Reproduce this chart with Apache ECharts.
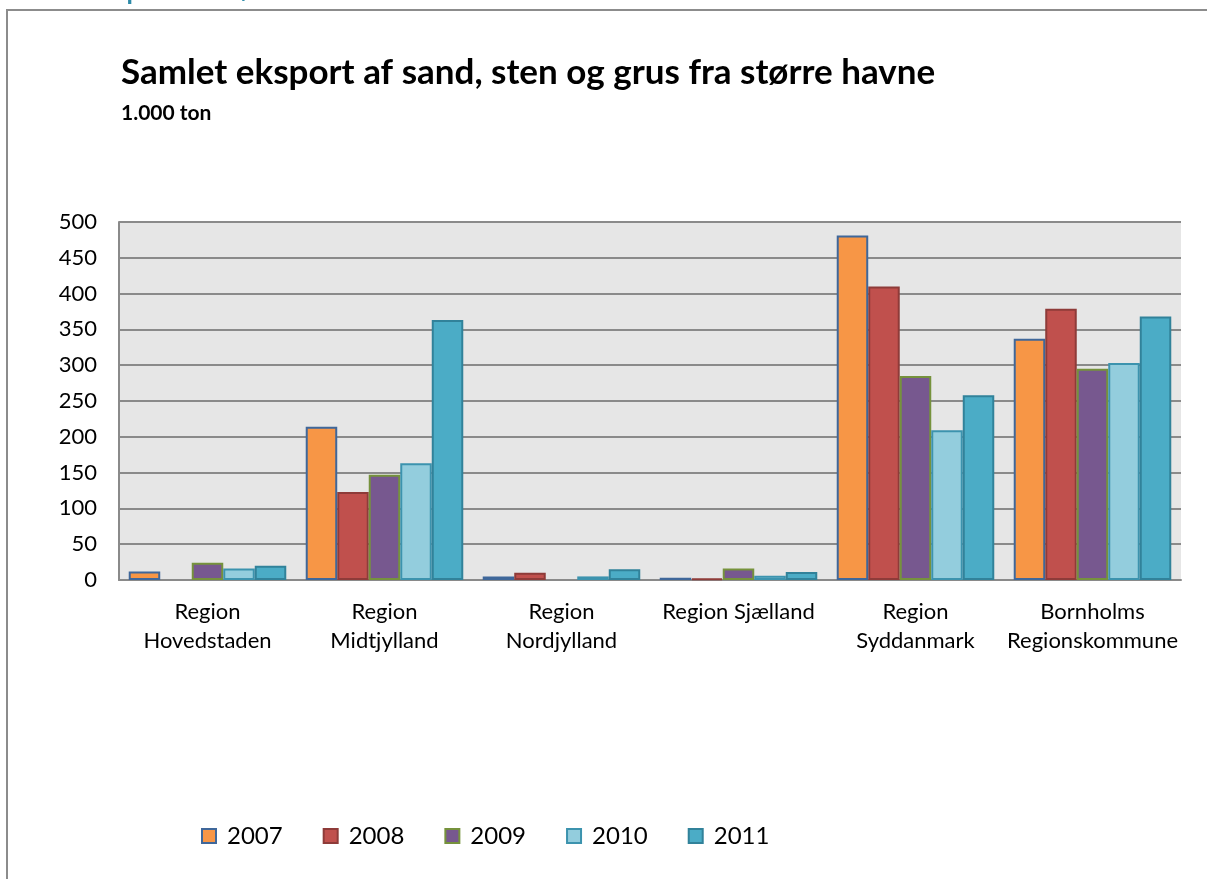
<!DOCTYPE html>
<html>
<head>
<meta charset="utf-8">
<script src="https://cdn.jsdelivr.net/npm/echarts@6/dist/echarts.min.js"></script>
<style>
html,body{margin:0;padding:0;background:#fff;}
#chart{width:1207px;height:879px;}
</style>
</head>
<body>
<div id="chart"></div>
<script>
const categories = ["Region\nHovedstaden", "Region\nMidtjylland", "Region\nNordjylland", "Region Sjælland", "Region\nSyddanmark", "Bornholms\nRegionskommune"];
const years = ["2007", "2008", "2009", "2010", "2011"];
const v2007 = [12, 214, 5, 3, 481, 337];
const v2008 = [null, 123, 10, 2, 410, 379];
const v2009 = [24, 147, null, 16, 285, 295];
const v2010 = [16, 163, 5, 6, 209, 303];
const v2011 = [20, 363, 15, 11, 258, 368];
const yTicks = [0, 50, 100, 150, 200, 250, 300, 350, 400, 450, 500];
const titleText = "Samlet eksport af sand, sten og grus fra større havne";
const subtitleText = "1.000 ton";
const topCutText = "Samlet eksport fra større havne";

const values = [v2007, v2008, v2009, v2010, v2011];
const fills = ["#F79646", "#C0504D", "#77588F", "#93CDDD", "#4BACC6"];
const borders = ["#3F679A", "#8E3B39", "#76923C", "#3C93AE", "#31829A"];
const FONT = "Lato, 'Open Sans', sans-serif";

const chart = echarts.init(document.getElementById('chart'), null, {renderer: 'canvas'});
chart.setOption({
  animation: false,
  backgroundColor: '#ffffff',
  graphic: [
    {type: 'rect', shape: {x: 7, y: 10, width: 1220, height: 900}, style: {fill: 'none', stroke: '#8c8c8c', lineWidth: 2}, z: 0},
    {type: 'text', left: 2, top: -21, style: {text: topCutText, fill: '#2E8BA8', font: 'bold 26px ' + FONT}},
    {type: 'text', left: 121, top: 55, style: {text: titleText, fill: '#000', font: 'bold 35px ' + FONT}},
    {type: 'text', left: 121, top: 103, style: {text: subtitleText, fill: '#000', font: 'bold 21px ' + FONT}}
  ],
  grid: {left: 119, right: 26, top: 222, bottom: 299, show: true, backgroundColor: '#E6E6E6', borderWidth: 0},
  legend: {
    data: years,
    left: 196, top: 819,
    itemWidth: 14, itemHeight: 14, itemGap: 40,
    icon: 'rect',
    textStyle: {fontSize: 24, color: '#000', fontFamily: FONT, padding: [0,0,0,6]}
  },
  xAxis: {
    type: 'category',
    data: categories,
    axisLine: {show: true, lineStyle: {color: '#8a8a8a', width: 2}},
    axisTick: {show: false},
    axisLabel: {fontSize: 22, color: '#000', fontFamily: FONT, lineHeight: 29, margin: 17, interval: 0},
    splitLine: {show: false}
  },
  yAxis: {
    type: 'value',
    min: 0, max: 500, interval: 50,
    axisLine: {show: true, lineStyle: {color: '#8a8a8a', width: 2}},
    axisTick: {show: false},
    axisLabel: {fontSize: 22, color: '#000', fontFamily: FONT, margin: 22, formatter: v => yTicks.includes(v) ? String(v) : ''},
    splitLine: {show: true, lineStyle: {color: '#8a8a8a', width: 2}}
  },
  series: years.map((y, i) => ({
    name: y,
    type: 'bar',
    data: values[i],
    barGap: '0%',
    barCategoryGap: '11%',
    itemStyle: {color: fills[i], borderColor: borders[i], borderWidth: 2}
  }))
});
</script>
</body>
</html>
